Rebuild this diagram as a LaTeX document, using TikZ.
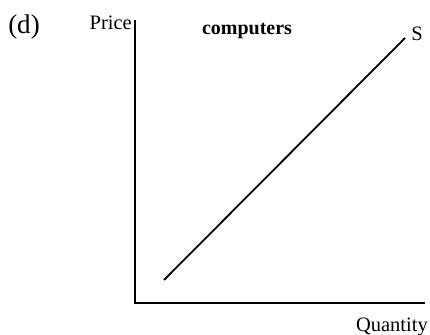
\documentclass[tikz,border=0pt]{standalone}
\usepackage{fontspec}
\setmainfont{Liberation Serif}
\usepackage{tikz}
\tikzset{
  axisline/.style={line width=1.8pt},
  supply/.style={line width=1.8pt},
  lab/.style={font=\fontsize{20.5}{22}\selectfont,inner sep=0pt},
  capt/.style={font=\fontsize{27}{29}\selectfont,inner sep=0pt},
  head/.style={font=\fontsize{20}{22}\selectfont\bfseries,inner sep=0pt},
}
\begin{document}
\begin{tikzpicture}[x=1pt,y=1pt]
  \useasboundingbox (0,0) rectangle (430,-334);
  \coordinate (orig) at (135,-303);
  \coordinate (ytop) at (135,-20);
  \coordinate (xend) at (425,-303);
  \coordinate (slo) at (164,-280);
  \coordinate (shi) at (405,-38);
  \draw[axisline] (ytop) -- (orig) -- (xend);
  \draw[supply] (slo) -- (shi);
  \node[capt,anchor=base] (part) at (24,-34) {(d)};
  \node[lab,anchor=base east] (price) at (132,-30) {Price};
  \node[head,anchor=base] (good) at (247,-35) {computers};
  \node[lab,anchor=base] (slab) at (417,-41) {S};
  \node[lab,anchor=base east] (qty) at (428,-331) {Quantity};
\end{tikzpicture}
\end{document}
